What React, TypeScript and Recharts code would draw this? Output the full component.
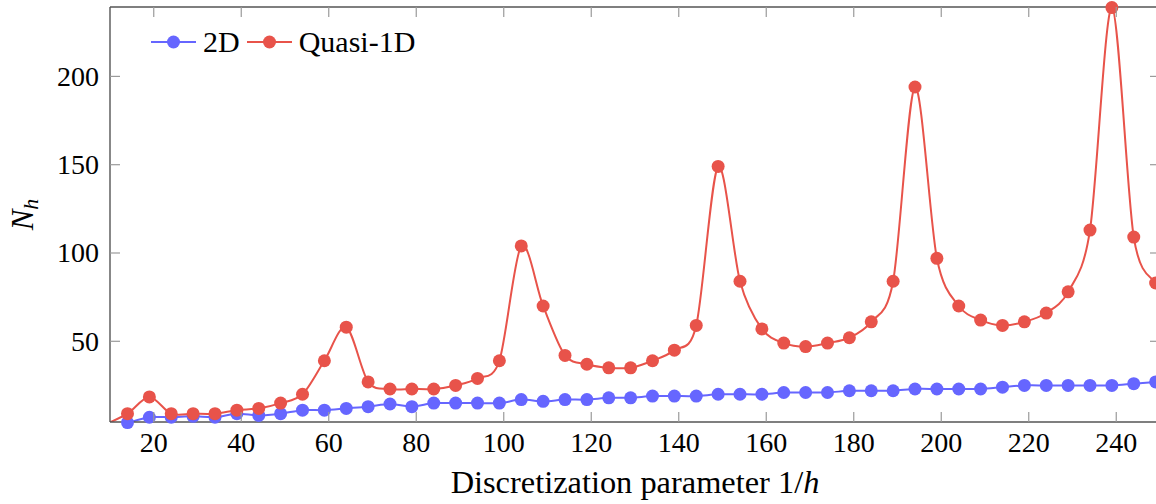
import { LineChart, Line, XAxis, YAxis, Legend, Label, ReferenceLine } from "recharts";

// discretization parameter 1/h (first point sits just left of the visible range)
const XS = [
  9, 14, 19, 24, 29, 34, 39, 44, 49, 54, 59, 64, 69, 74, 79, 84, 89, 94, 99, 104, 109, 114, 119, 124, 129,
  134, 139, 144, 149, 154, 159, 164, 169, 174, 179, 184, 189, 194, 199, 204, 209, 214, 219, 224, 229, 234,
  239, 244, 249,
];

// N_h for the 2D solver
const N_2D = [
  3, 4, 7, 7, 7.5, 7, 9, 8, 9, 11, 11, 12, 13, 14.5, 13, 15, 15, 15, 15, 17, 16, 17, 17, 18, 18, 19, 19, 19,
  20, 20, 20, 21, 21, 21, 22, 22, 22, 23, 23, 23, 23, 24, 25, 25, 25, 25, 25, 26, 27,
];

// N_h for the quasi-1D solver
const N_Q1D = [
  3, 9, 18.5, 9, 9, 9, 11, 12, 15, 20, 39, 58, 27, 23, 23, 23, 25, 29, 39, 104, 70, 42, 37, 35, 35, 39, 45,
  59, 149, 84, 57, 49, 47, 49, 52, 61, 84, 194, 97, 70, 62, 59, 61, 66, 78, 113, 239, 109, 83,
];

const X_TICKS = [20, 40, 60, 80, 100, 120, 140, 160, 180, 200, 220, 240];
const Y_TICKS = [50, 100, 150, 200];
const X_DOMAIN: [number, number] = [10, 250];
const Y_DOMAIN: [number, number] = [4.3, 239.3];

const BLUE = "#6666ff";
const RED = "#e8534a";
const FONT = '"Liberation Serif", "Times New Roman", serif';
const AXIS_COLOR = "#555";
const TICK_COLOR = "#9a9a9a";
const TICK_LEN = 10;
const PLOT_W = 1050;
const PLOT_H = 415;

const data = XS.map((x, i) => ({ x, blue: N_2D[i], red: N_Q1D[i] }));

// pgfplots-style "smooth" (cardinal spline, tension 0.55)
const K = 0.55 * 0.2775;
function pgfSmooth(context: any) {
  let pts: number[][] = [];
  return {
    areaStart() {},
    areaEnd() {},
    lineStart() {
      pts = [];
    },
    lineEnd() {
      const n = pts.length;
      if (!n) return;
      context.moveTo(pts[0][0], pts[0][1]);
      for (let i = 0; i < n - 1; i++) {
        const p0 = pts[Math.max(i - 1, 0)];
        const p1 = pts[i];
        const p2 = pts[i + 1];
        const p3 = pts[Math.min(i + 2, n - 1)];
        context.bezierCurveTo(
          p1[0] + K * (p2[0] - p0[0]),
          p1[1] + K * (p2[1] - p0[1]),
          p2[0] - K * (p3[0] - p1[0]),
          p2[1] - K * (p3[1] - p1[1]),
          p2[0],
          p2[1]
        );
      }
    },
    point(x: number, y: number) {
      pts.push([+x, +y]);
    },
  };
}

function XTick(props: any) {
  const { x, y, payload } = props;
  return (
    <g>
      <line x1={x} x2={x} y1={y} y2={y - TICK_LEN} stroke={TICK_COLOR} strokeWidth={1.2} />
      <line x1={x} x2={x} y1={y - PLOT_H} y2={y - PLOT_H + TICK_LEN} stroke={TICK_COLOR} strokeWidth={1.2} />
      <text x={x} y={y + 30} textAnchor="middle" fontFamily={FONT} fontSize={28} fill="#000">
        {payload.value}
      </text>
    </g>
  );
}

function YTick(props: any) {
  const { x, y, payload } = props;
  return (
    <g>
      <line x1={x} x2={x + TICK_LEN} y1={y} y2={y} stroke={TICK_COLOR} strokeWidth={1.2} />
      <line x1={x + PLOT_W - TICK_LEN} x2={x + PLOT_W} y1={y} y2={y} stroke={TICK_COLOR} strokeWidth={1.2} />
      <text x={x - 11} y={y + 9.5} textAnchor="end" fontFamily={FONT} fontSize={28} fill="#000">
        {payload.value}
      </text>
    </g>
  );
}

function XTitle(props: any) {
  const vb = props.viewBox || { x: 110, y: 422, width: PLOT_W };
  return (
    <text x={vb.x + vb.width / 2} y={vb.y + 71} textAnchor="middle" fontFamily={FONT} fontSize={32.4} fill="#000">
      Discretization parameter 1/<tspan fontStyle="italic">h</tspan>
    </text>
  );
}

function YTitle(props: any) {
  const vb = props.viewBox || { x: 0, y: 7, height: PLOT_H };
  const tx = vb.x + 33;
  const ty = vb.y + vb.height / 2;
  return (
    <text
      x={tx}
      y={ty}
      transform={`rotate(-90, ${tx}, ${ty})`}
      textAnchor="middle"
      fontFamily={FONT}
      fontSize={31}
      fill="#000"
    >
      <tspan fontStyle="italic">N</tspan>
      <tspan fontStyle="italic" fontSize={22} dy={5}>
        h
      </tspan>
    </text>
  );
}

function LegendContent(props: any) {
  const items = props.payload || [];
  return (
    <div style={{ display: "flex", alignItems: "center", fontFamily: FONT, fontSize: 30, lineHeight: "30px" }}>
      {items.map((e: any) => (
        <div key={e.value} style={{ display: "flex", alignItems: "center", marginRight: 7 }}>
          <svg width={45} height={14}>
            <line x1={0} x2={45} y1={7} y2={7} stroke={e.color} strokeWidth={2} />
            <circle cx={22.5} cy={7} r={6.5} fill={e.color} />
          </svg>
          <span style={{ marginLeft: 7, color: "#000" }}>{e.value}</span>
        </div>
      ))}
    </div>
  );
}

const dotStyle = (color: string) => ({ r: 6.5, fill: color, stroke: "none", clipDot: false });

export default function App() {
  return (
    <div style={{ position: "fixed", left: 0, top: 0, width: 1156, height: 504, overflow: "hidden", background: "#fff" }}>
      <LineChart width={1170} height={504} data={data} margin={{ top: 7, right: 10, bottom: 0, left: 0 }}>
        <XAxis
          dataKey="x"
          type="number"
          domain={X_DOMAIN}
          allowDataOverflow
          ticks={X_TICKS}
          tickLine={false}
          axisLine={{ stroke: AXIS_COLOR, strokeWidth: 1.4 }}
          tickSize={0}
          tickMargin={0}
          tick={<XTick />}
          height={82}
        >
          <Label content={<XTitle />} />
        </XAxis>
        <YAxis
          type="number"
          domain={Y_DOMAIN}
          allowDataOverflow
          ticks={Y_TICKS}
          tickLine={false}
          axisLine={{ stroke: AXIS_COLOR, strokeWidth: 1.4 }}
          tickSize={0}
          tickMargin={0}
          tick={<YTick />}
          width={110}
        >
          <Label content={<YTitle />} />
        </YAxis>
        <ReferenceLine y={Y_DOMAIN[1]} stroke={AXIS_COLOR} strokeWidth={1.4} ifOverflow="visible" />
        <ReferenceLine x={X_DOMAIN[1]} stroke={AXIS_COLOR} strokeWidth={1.4} ifOverflow="visible" />
        <Line
          name="2D"
          dataKey="blue"
          type={pgfSmooth as any}
          stroke={BLUE}
          strokeWidth={2}
          dot={false}
          activeDot={false}
          isAnimationActive={false}
        />
        <Line
          dataKey={(d: any) => (d.x < X_DOMAIN[0] ? null : d.blue)}
          stroke="none"
          legendType="none"
          dot={dotStyle(BLUE)}
          activeDot={false}
          isAnimationActive={false}
        />
        <Line
          name="Quasi-1D"
          dataKey="red"
          type={pgfSmooth as any}
          stroke={RED}
          strokeWidth={2}
          dot={false}
          activeDot={false}
          isAnimationActive={false}
        />
        <Line
          dataKey={(d: any) => (d.x < X_DOMAIN[0] ? null : d.red)}
          stroke="none"
          legendType="none"
          dot={dotStyle(RED)}
          activeDot={false}
          isAnimationActive={false}
        />
        <Legend
          layout="horizontal"
          align="center"
          verticalAlign="middle"
          content={<LegendContent />}
          wrapperStyle={{ left: 151, top: 27, width: "auto" }}
        />
      </LineChart>
    </div>
  );
}
